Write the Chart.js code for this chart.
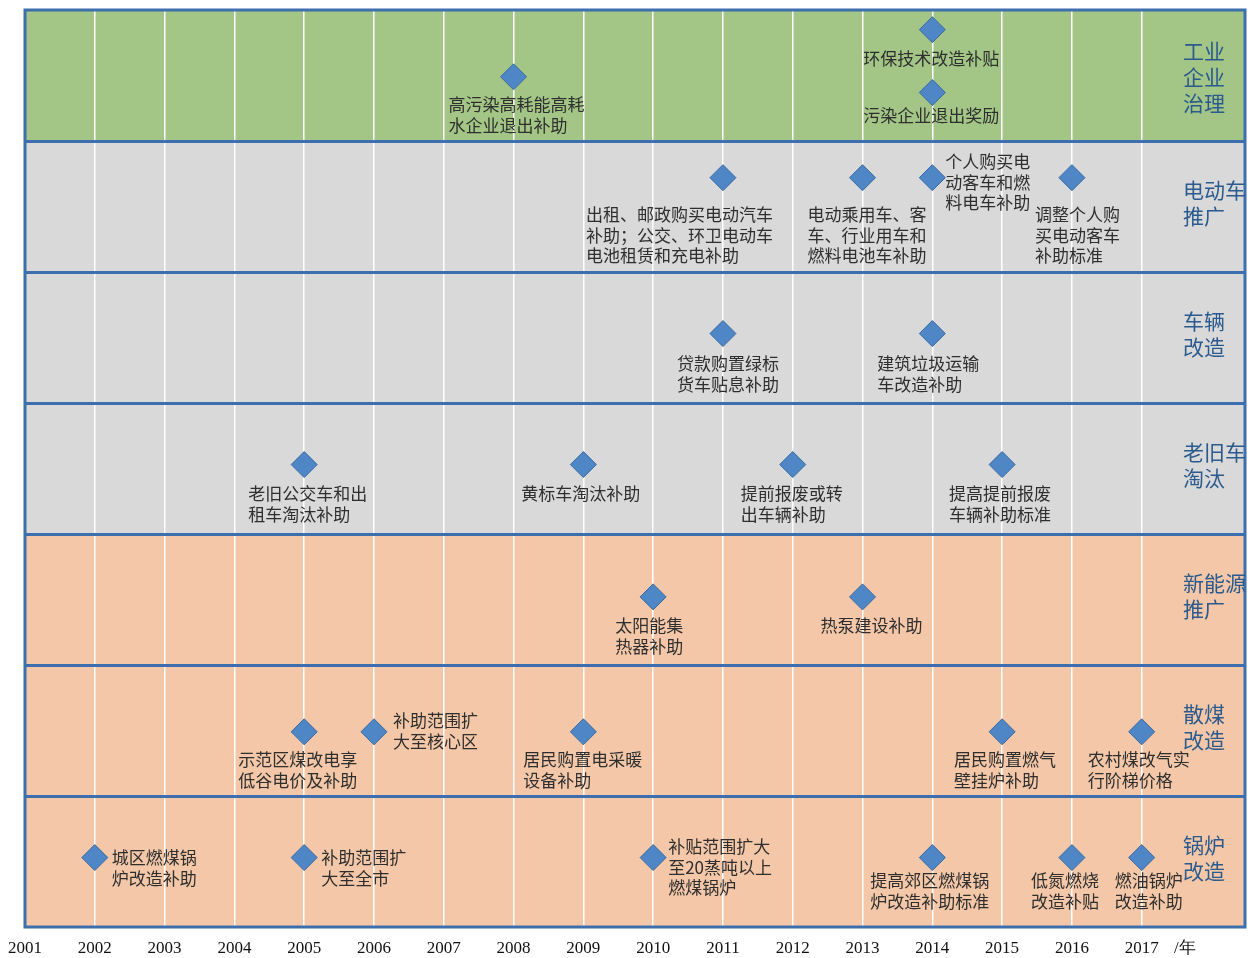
<!DOCTYPE html>
<html><head><meta charset="utf-8">
<script src="https://cdn.jsdelivr.net/npm/chart.js@4.4.1/dist/chart.umd.min.js"></script>
<style>html,body{margin:0;padding:0;background:#fff;} canvas{display:block;}</style>
</head><body>
<canvas id="c" width="1252" height="958"></canvas>
<script>
// ---- data ----
const tickYears = [2001,2002,2003,2004,2005,2006,2007,2008,2009,2010,2011,2012,2013,2014,2015,2016,2017];
const unitLabel = '/年';
// categories from bottom band to top band
const categories = ['锅炉\n改造','散煤\n改造','新能源\n推广','老旧车\n淘汰','车辆\n改造','电动车\n推广','工业\n企业\n治理'];
const eventYears = [
  2008, 2014, 2014,
  2011, 2013, 2014, 2016,
  2011, 2014,
  2005, 2009, 2012, 2015,
  2010, 2013,
  2005, 2006, 2009, 2015, 2017,
  2002, 2005, 2010, 2014, 2016, 2017
];
const eventLevels = [
  6.49, 6.85, 6.37,
  5.72, 5.72, 5.72, 5.72,
  4.53, 4.53,
  3.53, 3.53, 3.53, 3.53,
  2.52, 2.52,
  1.49, 1.49, 1.49, 1.49, 1.49,
  0.53, 0.53, 0.53, 0.53, 0.53, 0.53
];
const eventTexts = [
  '高污染高耗能高耗\n水企业退出补助', '环保技术改造补贴', '污染企业退出奖励',
  '出租、邮政购买电动汽车\n补助；公交、环卫电动车\n电池租赁和充电补助', '电动乘用车、客\n车、行业用车和\n燃料电池车补助', '个人购买电\n动客车和燃\n料电车补助', '调整个人购\n买电动客车\n补助标准',
  '贷款购置绿标\n货车贴息补助', '建筑垃圾运输\n车改造补助',
  '老旧公交车和出\n租车淘汰补助', '黄标车淘汰补助', '提前报废或转\n出车辆补助', '提高提前报废\n车辆补助标准',
  '太阳能集\n热器补助', '热泵建设补助',
  '示范区煤改电享\n低谷电价及补助', '补助范围扩\n大至核心区', '居民购置电采暖\n设备补助', '居民购置燃气\n壁挂炉补助', '农村煤改气实\n行阶梯价格',
  '城区燃煤锅\n炉改造补助', '补助范围扩\n大至全市', '补贴范围扩大\n至20蒸吨以上\n燃煤锅炉', '提高郊区燃煤锅\n炉改造补助标准', '低氮燃烧\n改造补贴', '燃油锅炉\n改造补助'
];

// ---- layout / style (not data) ----
const unitPos = 2017.62;
const bandColors = ['#f3c7a7','#f3c7a7','#f3c7a7','#d9d9d9','#d9d9d9','#d9d9d9','#a3c686'];
// [dx of text left edge from marker, dy of first line centre from marker]
const labelPlacement = [
  [-65,28],[-69,29],[-69,23],
  [-137,37],[-55,37],[13,-16],[-37,37],
  [-46,30],[-55,30],
  [-56,29],[-62,29],[-52,29],[-53,29],
  [-38,29],[-42,29],
  [-66,28],[19,-11],[-60,28],[-48,28],[-54,28],
  [17,0],[17,0],[15,-11],[-62,23],[-41,23],[-27,23]
];
const CJK = '"Noto Sans CJK SC", "Noto Sans", sans-serif';
const borderBlue = '#3d6eae';

const timelinePlugin = {
  id: 'timeline',
  beforeDraw(chart) {
    const {ctx, chartArea: a, scales: {y}} = chart;
    ctx.save();
    ctx.fillStyle = '#fff';
    ctx.fillRect(0, 0, chart.width, chart.height);
    categories.forEach((c, i) => {
      const top = y.getPixelForValue(i + 1), bot = y.getPixelForValue(i);
      ctx.fillStyle = bandColors[i];
      ctx.fillRect(a.left, top, a.right - a.left, bot - top);
    });
    ctx.restore();
  },
  beforeDatasetsDraw(chart) {
    const {ctx, chartArea: a, scales: {x, y}} = chart;
    ctx.save();
    // band separators
    ctx.strokeStyle = borderBlue;
    ctx.lineWidth = 3;
    for (let i = 1; i < categories.length; i++) {
      const py = Math.round(y.getPixelForValue(i)) + 0.5;
      ctx.beginPath(); ctx.moveTo(a.left, py); ctx.lineTo(a.right, py); ctx.stroke();
    }
    ctx.strokeRect(a.left, a.top, a.right - a.left, a.bottom - a.top);
    // category labels
    ctx.fillStyle = '#2b5b8e';
    ctx.font = '21px ' + CJK;
    ctx.textAlign = 'left';
    ctx.textBaseline = 'middle';
    categories.forEach((c, i) => {
      const lines = c.split('\n');
      const cy = (y.getPixelForValue(i) + y.getPixelForValue(i + 1)) / 2 + (lines.length === 3 ? 1.5 : -3);
      const lh = 26;
      lines.forEach((ln, k) => {
        ctx.fillText(ln, a.right - 62, cy + (k - (lines.length - 1) / 2) * lh);
      });
    });
    // event labels
    ctx.fillStyle = '#2e2e2e';
    ctx.font = '17px ' + CJK;
    eventTexts.forEach((t, i) => {
      const px = x.getPixelForValue(eventYears[i]);
      const py = y.getPixelForValue(eventLevels[i]);
      const [dx, dy] = labelPlacement[i];
      t.split('\n').forEach((ln, k) => {
        ctx.fillText(ln, px + dx, py + dy + k * 20.6);
      });
    });
    ctx.restore();
  }
};

new Chart(document.getElementById('c'), {
  type: 'scatter',
  data: {
    datasets: [{
      data: eventYears.map((v, i) => ({x: v, y: eventLevels[i]})),
      pointStyle: 'rectRot',
      pointRadius: 13,
      backgroundColor: '#4f86c6',
      borderColor: '#3a6aa2',
      borderWidth: 1
    }]
  },
  options: {
    responsive: false,
    animation: false,
    events: [],
    layout: {autoPadding: false, padding: {left: 25, right: 7, top: 10, bottom: 0}},
    plugins: {legend: {display: false}, tooltip: {enabled: false}},
    scales: {
      x: {
        type: 'linear',
        min: 2001,
        max: 2018.48,
        afterBuildTicks(scale) {
          scale.ticks = tickYears.map(v => ({value: v})).concat([{value: unitPos}]);
        },
        afterFit(scale) {
          scale.paddingLeft = 0; scale.paddingRight = 0;
          scale.height = 31;
        },
        border: {display: false},
        grid: {
          color: (ctx) => (ctx.tick && ctx.tick.value > 2017.5) ? 'rgba(0,0,0,0)' : '#ffffff',
          lineWidth: 1.5,
          drawTicks: false
        },
        ticks: {
          autoSkip: false,
          maxRotation: 0,
          padding: 11,
          color: '#111',
          font: {family: '"Liberation Serif", serif', size: 17},
          callback: (v) => v === unitPos ? unitLabel : String(v)
        }
      },
      y: {
        display: false,
        min: 0,
        max: 7
      }
    }
  },
  plugins: [timelinePlugin]
});
</script>
</body></html>
